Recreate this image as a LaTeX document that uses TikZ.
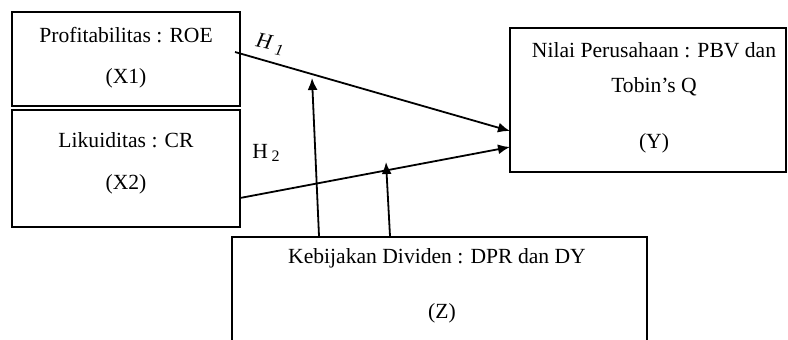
\documentclass[tikz,border=0pt]{standalone}
\usepackage{fontspec}
\setmainfont{Liberation Serif}
\usepackage{tikz}
\usetikzlibrary{arrows.meta}
\usetikzlibrary{fit}
\usetikzlibrary{calc}

\tikzset{
  kotak/.style={draw, line width=1pt, inner sep=0pt},
  teks/.style={font=\fontsize{10.8}{13}\selectfont, inner sep=0pt},
  panah/.style={line width=0.9pt, -{Latex[length=6pt,width=5pt]}}
}

\begin{document}
\begin{tikzpicture}[x=0.5pt, y=-0.5pt]
      \clip (0,0) rectangle (788,339);
      % kotak variabel
      \node[kotak, fit={(12,12) (240,106)}]   (x1) {};
      \node[kotak, fit={(12,110) (240,227)}]  (x2) {};
      \node[kotak, fit={(510,28) (786,172)}]  (y)  {};
      \node[kotak, fit={(232,237) (647,380)}] (z)  {};
      % isi kotak
      \node[teks] (x1a) at (126,35)  {Profitabilitas : ROE};
      \node[teks] (x1b) at (126,78)  {(X1)};
      \node[teks] (x2a) at (126,140) {Likuiditas : CR};
      \node[teks] (x2b) at (126,184) {(X2)};
      \node[teks] (ya)  at (654,50)  {Nilai Perusahaan : PBV dan};
      \node[teks] (yb)  at (654,87)  {Tobin’s Q};
      \node[teks] (yc)  at (654,143) {(Y)};
      \node[teks] (za)  at (437,258) {Kebijakan Dividen : DPR dan DY};
      \node[teks] (zb)  at (442,313) {(Z)};
      % titik ujung panah
      \coordinate (h1a) at (235,52);
      \coordinate (h1b) at (510,131);
      \coordinate (h2a) at (240,198);
      \coordinate (h2b) at (510,147);
      \coordinate (m1)  at (312,78);
      \coordinate (m2)  at (386,162);
      \draw[panah] (h1a) -- (h1b);
      \draw[panah] (h2a) -- (h2b);
      \draw[panah] (z.north -| 319,0) -- (m1);
      \draw[panah] (z.north -| 390,0) -- (m2);
      % label hipotesis
      \node[teks, rotate=-12] (lh1) at (270,44) {\textit{H}\,\raisebox{-2pt}{\footnotesize\textit{1}}};
      \node[teks] (lh2) at (266,153) {H\,\raisebox{-1.5pt}{\footnotesize 2}};
\end{tikzpicture}
\end{document}
